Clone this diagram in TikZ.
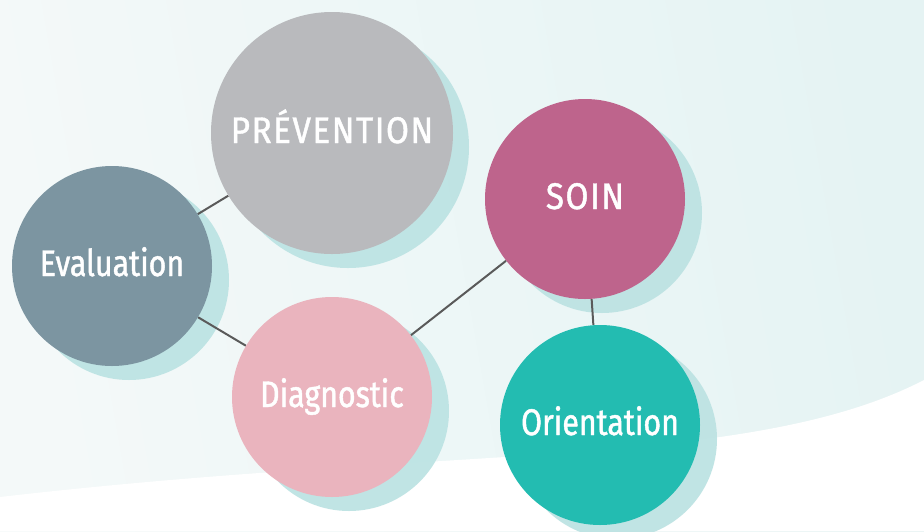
\documentclass[tikz,border=0pt]{standalone}
\usepackage{fontspec}
\newfontfamily\labfont{Fira Sans}[FakeStretch=0.82,FakeBold=1.2]
\newfontfamily\capfont{Fira Sans}[FakeStretch=0.9,FakeBold=1.2,LetterSpace=4]
\pgfdeclarelayer{bgzero}
\pgfdeclarelayer{bgone}
\pgfsetlayers{bgzero,bgone,main}
\definecolor{bgleft}{HTML}{F7FBFB}
\definecolor{bgright}{HTML}{E8F4F4}
\definecolor{shadowc}{HTML}{BDE3E3}
\definecolor{linec}{HTML}{5A5A5A}
\definecolor{cprev}{HTML}{B9BABD}
\definecolor{ceval}{HTML}{7C95A1}
\definecolor{cdiag}{HTML}{EAB4BE}
\definecolor{csoin}{HTML}{BE648C}
\definecolor{corient}{HTML}{23BCB1}
\tikzset{
  bubble/.style={circle, inner sep=0pt, minimum size=200pt, text=white,
    text height=26pt, text depth=6pt, align=center,
    font=\labfont\fontsize{37}{40}\selectfont},
  capbubble/.style={bubble, font=\capfont\fontsize{37}{40}\selectfont},
  link/.style={draw=linec, line width=2pt},
  shade/.style={fill=shadowc, opacity=0.95}
}
\begin{document}
\begin{tikzpicture}[x=1pt,y=-1pt]
\useasboundingbox (0,0) rectangle (924,531);
% circles
\node[capbubble, fill=cprev, minimum size=242pt] (prev) at (332,133) {PRÉVENTION};
\node[bubble, fill=ceval] (eval) at (112,266) {Evaluation};
\node[bubble, fill=cdiag] (diag) at (332,397) {Diagnostic};
\node[capbubble, fill=csoin] (soin) at (585,199) {SOIN};
\node[bubble, fill=corient] (orient) at (600,425) {Orientation};
% connectors
\begin{pgfonlayer}{bgone}
\draw[link] (eval) -- (prev);
\draw[link] (eval) -- (diag);
\draw[link] (diag) -- (soin);
\draw[link] (soin) -- (orient);
\end{pgfonlayer}
% background and shadows
\begin{pgfonlayer}{bgzero}
\shade[left color=bgleft, right color=bgright, shading angle=100] (0,0) rectangle (924,531);
\fill[white] (0,497) .. controls (450,445) and (750,470) .. (924,380) -- (924,531) -- (0,531) -- cycle;
\fill[shade] ([shift={(16,14)}]prev.center) circle (121pt);
\fill[shade] ([shift={(17,14)}]eval.center) circle (100pt);
\fill[shade] ([shift={(17,14)}]diag.center) circle (100pt);
\fill[shade] ([shift={(17,14)}]soin.center) circle (100pt);
\fill[shade] ([shift={(17,14)}]orient.center) circle (100pt);
\end{pgfonlayer}
\end{tikzpicture}
\end{document}
